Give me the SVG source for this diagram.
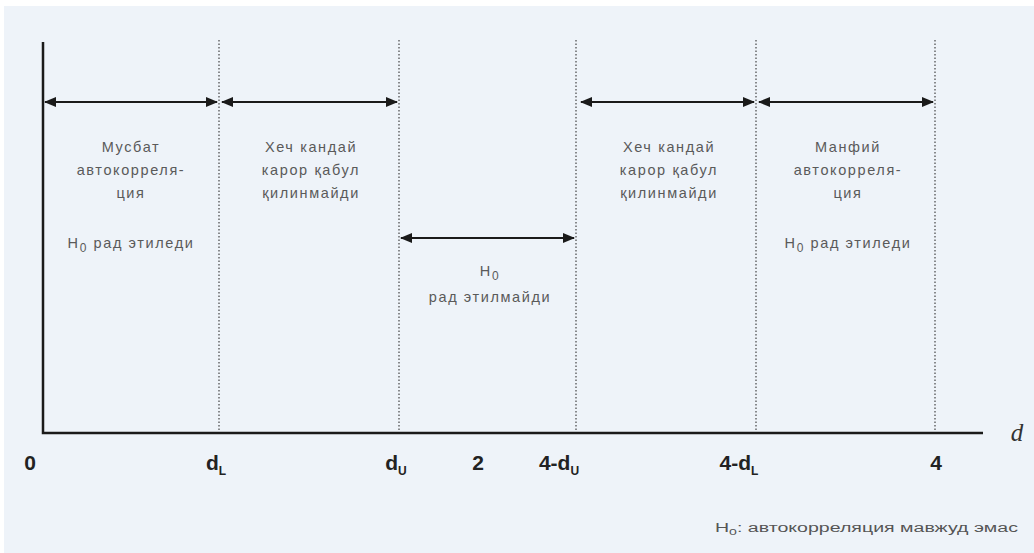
<svg xmlns="http://www.w3.org/2000/svg" width="1034" height="553" viewBox="0 0 1034 553">
<style>
.ax{stroke:#1a1a1a;stroke-width:2.5;fill:none}
.dot{stroke:#444;stroke-width:1.2;stroke-dasharray:1.5 2;fill:none}
.arr{stroke:#1a1a1a;stroke-width:2;fill:none;marker-start:url(#ah);marker-end:url(#ah)}
.t{font-family:"Liberation Sans",Arial,sans-serif;font-size:14.5px;letter-spacing:1.6px;fill:#5a5a5a;text-anchor:middle}
.lb{font-family:"Liberation Sans",Arial,sans-serif;font-size:21px;font-weight:bold;fill:#222;text-anchor:middle}
.sub{font-size:12px}
.fn{font-family:"Liberation Sans",Arial,sans-serif;font-size:12.5px;fill:#555}
</style>
<defs>
<marker id="ah" viewBox="0 0 12 10" refX="11" refY="5" markerWidth="12" markerHeight="10" markerUnits="userSpaceOnUse" orient="auto-start-reverse">
<path d="M0,0 L12,5 L0,10 z" fill="#1a1a1a"/>
</marker>
</defs>
<rect width="1034" height="553" fill="#ffffff"/>
<rect x="4" y="6" width="1030" height="547" fill="#eef3f9"/>
<g id="axes">
<path class="ax" d="M43,42 V433 H983"/>
<text x="1017" y="441" font-family="Liberation Serif,serif" font-style="italic" font-size="25" fill="#333" text-anchor="middle">d</text>
</g>
<g id="gridlines">
<path class="dot" d="M219,40 V432 M399,40 V432 M576,40 V432 M756,40 V432 M935,40 V432"/>
</g>
<g id="connectors">
<path class="arr" d="M45,102 H217"/>
<path class="arr" d="M222,102 H397"/>
<path class="arr" d="M581,102 H754"/>
<path class="arr" d="M759,102 H933"/>
<path class="arr" d="M401,238 H574"/>
</g>
<g id="region1">
<text class="t" x="131" y="152">Мусбат</text>
<text class="t" x="131" y="175">автокорреля-</text>
<text class="t" x="131" y="198">ция</text>
<text class="t" x="131" y="248">H<tspan class="sub" dy="4">0</tspan><tspan dy="-4"> рад этиледи</tspan></text>
</g>
<g id="region2">
<text class="t" x="311" y="152">Хеч кандай</text>
<text class="t" x="311" y="175">карор қабул</text>
<text class="t" x="311" y="198">қилинмайди</text>
</g>
<g id="region3">
<text class="t" x="490" y="276">H<tspan class="sub" dy="4">0</tspan></text>
<text class="t" x="490" y="302">рад этилмайди</text>
</g>
<g id="region4">
<text class="t" x="669" y="152">Хеч кандай</text>
<text class="t" x="669" y="175">карор қабул</text>
<text class="t" x="669" y="198">қилинмайди</text>
</g>
<g id="region5">
<text class="t" x="848" y="152">Манфий</text>
<text class="t" x="848" y="175">автокорреля-</text>
<text class="t" x="848" y="198">ция</text>
<text class="t" x="848" y="248">H<tspan class="sub" dy="4">0</tspan><tspan dy="-4"> рад этиледи</tspan></text>
</g>
<g id="ticklabels">
<text class="lb" x="30" y="470">0</text>
<text class="lb" x="216" y="470">d<tspan class="sub" dy="5">L</tspan></text>
<text class="lb" x="396" y="470">d<tspan class="sub" dy="5">U</tspan></text>
<text class="lb" x="478" y="470">2</text>
<text class="lb" x="559" y="470">4-d<tspan class="sub" dy="5">U</tspan></text>
<text class="lb" x="739" y="470">4-d<tspan class="sub" dy="5">L</tspan></text>
<text class="lb" x="936" y="470">4</text>
</g>
<g id="footnote">
<text class="fn" x="715" y="532" textLength="303" lengthAdjust="spacingAndGlyphs">H<tspan font-size="9" dy="3">0</tspan><tspan dy="-3">: автокорреляция мавжуд эмас</tspan></text>
</g>
</svg>
